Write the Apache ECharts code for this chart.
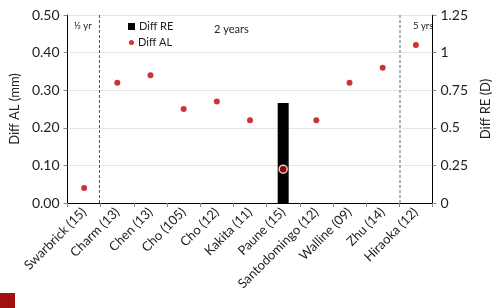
<!DOCTYPE html>
<html style="height: 100%">
<head>
    <meta charset="UTF-8">
    <title>Diff AL / Diff RE</title>
    <script src="https://cdn.jsdelivr.net/npm/echarts/dist/echarts.min.js"></script>
    <style>
        #main { width: 500px; height: 308px; }
    </style>
</head>
<body style="height: 100%; margin: 0">
    <div id="main"></div>
    <script type="text/javascript">
        var studies = ['Swarbrick (15)', 'Charm (13)', 'Chen (13)', 'Cho (105)', 'Cho (12)', 'Kakita (11)',
            'Paune (15)', 'Santodomingo (12)', 'Walline (09)', 'Zhu (14)', 'Hiraoka (12)'];
        var diffAL = [0.04, 0.32, 0.34, 0.25, 0.27, 0.22, 0.09, 0.22, 0.32, 0.36, 0.42];
        var diffRE = [null, null, null, null, null, null, 0.665, null, null, null, null];
        var periodSplits = [0.45, 9.5];   // between categories
        var periodNames = ['½ yr', '2 years', '5 yrs'];

        var font = 'Lato';
        var red = '#c00000';
        var chart = echarts.init(document.getElementById('main'));

        var alData = diffAL.map(function (v, i) {
            // the dot sitting on the bar gets a white ring
            if (diffRE[i] != null) {
                return { value: v, symbolSize: 8, itemStyle: { borderColor: '#fff', borderWidth: 1.5 } };
            }
            return v;
        });

        var legendText = { fontSize: 11, color: '#222', fontFamily: font, padding: [0, 0, 0, -1] };

        var option = {
            animation: false,
            textStyle: { fontFamily: font },
            grid: { left: 67, right: 59, top: 15, bottom: 105 },
            legend: [{
                left: 123, top: 16,
                itemWidth: 7, itemHeight: 7, itemGap: 4,
                textStyle: legendText,
                data: [{ name: 'Diff RE', icon: 'rect' }]
            }, {
                left: 124, top: 32,
                itemWidth: 5, itemHeight: 5, itemGap: 4,
                textStyle: legendText,
                data: [{ name: 'Diff AL', icon: 'circle' }]
            }],
            xAxis: [{
                type: 'category',
                data: studies,
                axisLine: { onZero: false, lineStyle: { color: '#000', width: 1 } },
                axisTick: { show: true, alignWithLabel: false, length: 4, lineStyle: { color: '#888' } },
                axisLabel: { rotate: 45, fontSize: 13, color: '#222', margin: 7, interval: 0 }
            }, {
                type: 'value', min: -0.5, max: 10.5, show: false
            }],
            yAxis: [{
                type: 'value', min: 0, max: 0.5, interval: 0.1,
                name: 'Diff AL (mm)', nameLocation: 'middle', nameGap: 45,
                nameTextStyle: { fontSize: 13, color: '#222' },
                axisLine: { show: true, onZero: false, lineStyle: { color: '#000' } },
                axisTick: { show: true, length: 4, lineStyle: { color: '#888' } },
                axisLabel: { fontSize: 14, color: '#222', margin: 8, formatter: function (v) { return v.toFixed(2); } },
                splitLine: { lineStyle: { color: '#e6e6e6' } }
            }, {
                type: 'value', min: 0, max: 1.25, interval: 0.25,
                name: 'Diff RE (D)', nameLocation: 'middle', nameGap: 40, nameRotate: 90,
                nameTextStyle: { fontSize: 13, color: '#222' },
                axisLine: { show: true, onZero: false, lineStyle: { color: '#000' } },
                axisTick: { show: true, length: 4, lineStyle: { color: '#888' } },
                axisLabel: { fontSize: 14, color: '#222', margin: 8 },
                splitLine: { show: false }
            }],
            series: [{
                name: 'Diff RE',
                type: 'bar',
                yAxisIndex: 1,
                data: diffRE,
                barWidth: 11,
                itemStyle: { color: '#000' }
            }, {
                name: 'Diff AL',
                type: 'scatter',
                data: alData,
                symbolSize: 6,
                itemStyle: { color: red },
                z: 5
            }, {
                type: 'line',
                xAxisIndex: 1,
                data: [],
                markLine: {
                    symbol: 'none',
                    silent: true,
                    label: { show: false },
                    data: [
                        { xAxis: periodSplits[0], lineStyle: { color: '#555', type: [3, 2], width: 1 } },
                        { xAxis: periodSplits[1], lineStyle: { color: '#999', type: [3, 2], width: 1.5 } }
                    ]
                }
            }],
            graphic: [
                { type: 'text', left: 74, top: 21, style: { text: periodNames[0], fontSize: 9.5, fill: '#222', fontFamily: font } },
                { type: 'text', left: 214, top: 24, style: { text: periodNames[1], fontSize: 11, fill: '#222', fontFamily: font } },
                { type: 'text', left: 413, top: 21, style: { text: periodNames[2], fontSize: 9.5, fill: '#222', fontFamily: font } },
                { type: 'rect', left: 0, top: 293, shape: { width: 15, height: 15 }, style: { fill: '#a0100e' } }
            ]
        };

        chart.setOption(option);
    </script>
</body>
</html>
